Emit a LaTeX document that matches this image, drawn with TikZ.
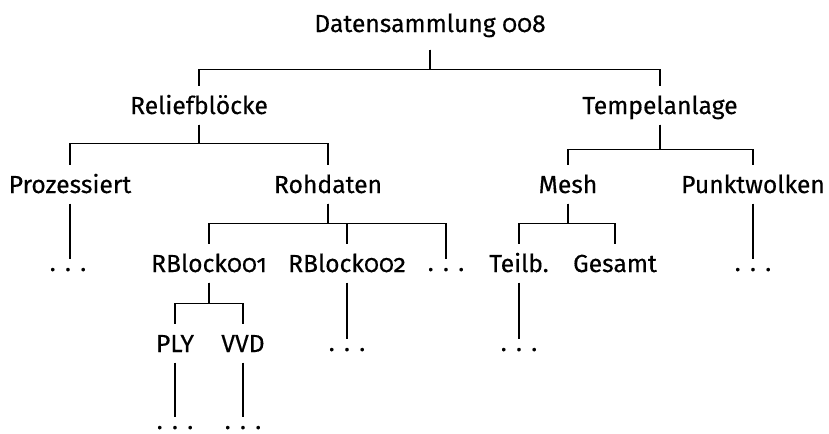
\documentclass[tikz,border=0pt]{standalone}
\usepackage{fontspec}
\setmainfont{Fira Sans}[Numbers=OldStyle,FakeBold=0.35]
\usepackage{tikz}
\usetikzlibrary{positioning}
\newcommand{\etcdots}{.\hspace{7pt}.\hspace{7pt}.}

\begin{document}
\begin{tikzpicture}[x=0.75pt,y=-0.75pt,line width=0.8pt,
  lbl/.style={font=\fontsize{18.5}{20}\selectfont,anchor=base,inner xsep=0pt,inner ysep=7.5pt,text height=12.75pt,text depth=0pt},
  etc/.style={font=\fontsize{18.5}{20}\selectfont,anchor=base,inner xsep=0pt,inner ysep=6pt,text height=2.25pt,text depth=0pt}]
\useasboundingbox (0,0) rectangle (829,433);
\node[lbl,inner ysep=12.75pt] (root) at (430,32) {Datensammlung 008};
\node[lbl] (relief) at (199,114) {Reliefblöcke};
\node[lbl] (tempel) at (660,114) {Tempelanlage};
\node[lbl] (proz) at (70,193) {Prozessiert};
\node[lbl] (roh) at (328,193) {Rohdaten};
\node[lbl] (mesh) at (568,193) {Mesh};
\node[lbl] (punkt) at (753,193) {Punktwolken};
\node[etc] (prozetc) at (68,271) {\etcdots};
\node[lbl] (rba) at (209,272) {RBlock001};
\node[lbl] (rbb) at (347,272) {RBlock002};
\node[etc] (rohetc) at (446,271) {\etcdots};
\node[lbl] (teil) at (519,272) {Teilb.};
\node[lbl] (gesamt) at (615,272) {Gesamt};
\node[etc] (punktetc) at (753,271) {\etcdots};
\node[lbl] (ply) at (175,352) {PLY};
\node[lbl] (vvd) at (243,352) {VVD};
\node[etc] (rbbetc) at (347,351) {\etcdots};
\node[etc] (teiletc) at (519,351) {\etcdots};
\node[etc] (plyetc) at (175,429) {\etcdots};
\node[etc] (vvdetc) at (243,429) {\etcdots};
% branches
\draw (root.south) -- ++(0,20) -| (relief.north);
\draw (root.south) -- ++(0,20) -| (tempel.north);
\draw (relief.south) -- ++(0,19) -| (proz.north);
\draw (relief.south) -- ++(0,19) -| (roh.north);
\draw (tempel.south) -- ++(0,25) -| (mesh.north);
\draw (tempel.south) -- ++(0,25) -| (punkt.north);
\draw (roh.south) -- ++(0,20) -| (rba.north);
\draw (roh.south) -- ++(0,20) -| (rbb.north);
\draw (roh.south) -- ++(0,20) -| (rohetc.north);
\draw (mesh.south) -- ++(0,20) -| (teil.north);
\draw (mesh.south) -- ++(0,20) -| (gesamt.north);
\draw (rba.south) -- ++(0,21) -| (ply.north);
\draw (rba.south) -- ++(0,21) -| (vvd.north);
% leaves
\draw (proz.south) -- (proz.south |- prozetc.north);
\draw (punkt.south) -- (punktetc.north);
\draw (rbb.south) -- (rbbetc.north);
\draw (teil.south) -- (teiletc.north);
\draw (ply.south) -- (plyetc.north);
\draw (vvd.south) -- (vvdetc.north);
\end{tikzpicture}
\end{document}
